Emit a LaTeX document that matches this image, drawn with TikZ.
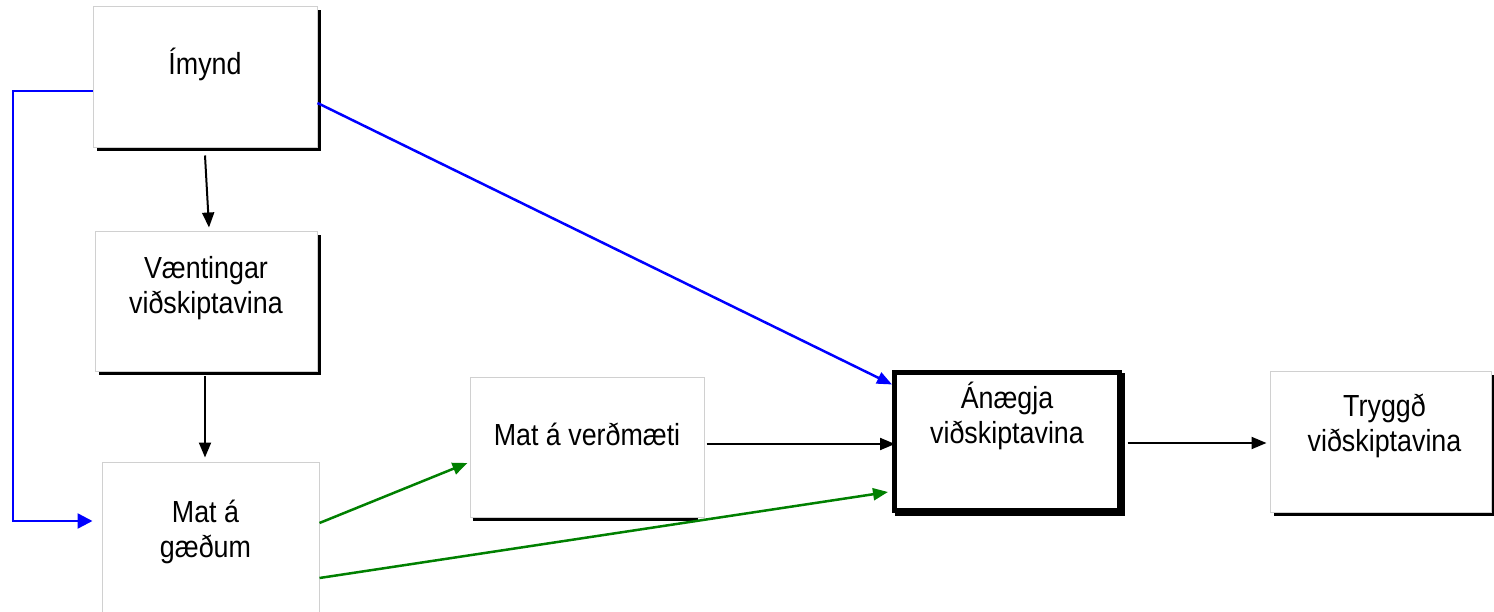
\documentclass[tikz,border=0pt]{standalone}
\usepackage{fontspec}
\setmainfont{Liberation Sans}[FakeStretch=0.88]
\usetikzlibrary{arrows.meta,shadows}
\definecolor{boxgray}{RGB}{208,208,208}
\definecolor{linkblue}{RGB}{0,0,255}
\definecolor{linkgreen}{RGB}{0,128,0}
\begin{document}
\begin{tikzpicture}[x=1pt,y=1pt,
  box/.style={draw=boxgray,line width=1pt,fill=white,rectangle,inner sep=0pt},
  sbox/.style={box,drop shadow={shadow xshift=3.5pt,shadow yshift=-3.5pt,fill=black,opacity=1}},
  lbl/.style={font=\fontsize{30.5}{35}\selectfont,align=center,inner sep=0pt},
  arr/.style={line width=2pt,-{Triangle[length=15pt,width=12pt]}},
  carr/.style={arr,line width=2.5pt},
]
\useasboundingbox (0,0) rectangle (1494,611);
\begin{scope}
\clip (0,0) rectangle (1494,611);
% boxes
\node[sbox,minimum width=224pt,minimum height=141pt] (imynd) at (205,533.5) {};
\node[lbl] (timynd) at ([yshift=13pt]imynd.center) {Ímynd};

\node[sbox,minimum width=222pt,minimum height=140pt] (vaent) at (206,309) {};
\node[lbl] (tvaent) at ([yshift=14pt]vaent.center) {Væntingar\\viðskiptavina};

\node[box,minimum width=217pt,minimum height=168pt] (gaedi) at (210.5,65) {};
\node[lbl] (tgaedi) at ([xshift=-5pt,yshift=14pt]gaedi.center) {Mat á\\gæðum};

\node[box,minimum width=234pt,minimum height=139pt] (verd) at (587,163.5) {};
\draw[black,line width=3.5pt] ([xshift=3pt,yshift=-2pt]verd.south west) -- ([xshift=-7pt,yshift=-2pt]verd.south east);
\node[lbl] (tverd) at ([yshift=13pt]verd.center) {Mat á verðmæti};

\node[box,draw=black,line width=5pt,minimum width=225pt,minimum height=138pt,
  drop shadow={shadow xshift=3pt,shadow yshift=-3pt,fill=black,draw=black,line width=5pt,opacity=1}] (anaegja) at (1007,169.5) {};
\node[lbl] (tanaegja) at ([yshift=26pt]anaegja.center) {Ánægja\\viðskiptavina};

\node[sbox,minimum width=221pt,minimum height=140pt] (tryggd) at (1380.5,169) {};
\node[lbl] (ttryggd) at ([xshift=4pt,yshift=16pt]tryggd.center) {Tryggð\\viðskiptavina};

% connectors
\coordinate (b1) at (13,520);
\coordinate (b2) at (13,90);
\draw[arr] (imynd.south) ++(0,-7) coordinate (s1) (s1) -- ([xshift=3pt,yshift=4pt]vaent.north);
\draw[arr] ([xshift=-1pt,yshift=-4pt]vaent.south) -- ([xshift=-5.5pt,yshift=4pt]gaedi.north);
\draw[carr,linkblue,-{Triangle[length=15pt,width=15pt]}] ([yshift=-13.5pt]imynd.west) -- (b1) -- (b2) -- ([xshift=-9pt,yshift=25pt]gaedi.west);
\draw[carr,linkblue] ([yshift=-25.5pt]imynd.east) -- ([yshift=-14.5pt]anaegja.north west);
\draw[carr,linkgreen] ([yshift=23pt]gaedi.east) -- ([xshift=-2pt,yshift=-15.5pt]verd.west);
\draw[carr,linkgreen] ([yshift=-32pt]gaedi.east) -- ([xshift=-4pt,yshift=-50.5pt]anaegja.west);
\draw[arr] ([xshift=2pt,yshift=3.5pt]verd.east) -- ([xshift=3pt,yshift=-2.5pt]anaegja.west);
\draw[arr] ([xshift=5.5pt,yshift=-1.5pt]anaegja.east) -- ([xshift=-3pt,yshift=-1pt]tryggd.west);
\end{scope}
\end{tikzpicture}
\end{document}
